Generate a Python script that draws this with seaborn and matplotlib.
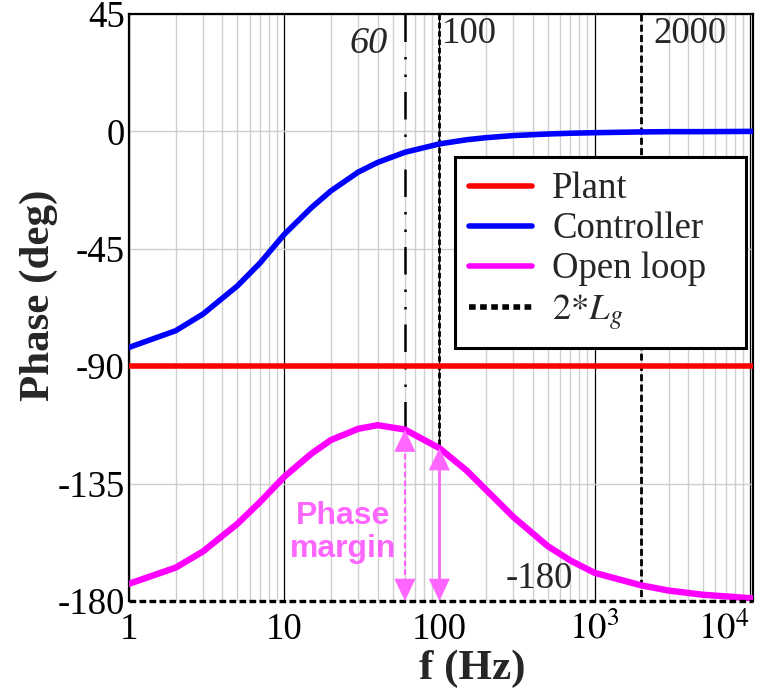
import numpy as np
import pandas as pd
import matplotlib
matplotlib.use("Agg")
import matplotlib.pyplot as plt
from matplotlib.lines import Line2D
from matplotlib.ticker import FixedLocator, NullFormatter
import seaborn as sns

# ---------------- data ----------------
freq = [1, 2, 3, 5, 7, 10, 15, 20, 30, 40, 60, 100, 150, 200, 300, 500,
        700, 1000, 2000, 3000, 5000, 10000, 10500]
plant = [-90] * len(freq)
controller = [-82.8, -76.4, -70.0, -59.2, -50.4, -39.5, -29.2, -22.8, -15.6,
              -11.9, -8.0, -4.8, -3.2, -2.4, -1.6, -1.0, -0.7, -0.5, -0.2,
              -0.1, -0.1, 0.0, 0.0]
open_loop = [-173.4, -167.2, -161.0, -150.4, -142.0, -132.4, -123.5, -118.3,
             -114.0, -112.6, -114.3, -121.4, -130.0, -137.4, -147.8, -159.0,
             -164.5, -169.2, -174.0, -176.0, -177.6, -178.9, -179.0]

series_names = ["Plant", "Controller", "Open loop"]
series_colors = ["#ff0000", "#0000ff", "#ff00ff"]
lg_label = r"$\mathit{2{*}L_g}$"

f_pm1, f_pm2, f_lg = 60, 100, 2000
yticks = [45, 0, -45, -90, -135, -180]
xticks = [1, 10, 100, 1000, 10000]
xticklabels = ["1", "10", "100", r"$10^3$", r"$10^4$"]

df = pd.DataFrame({
    "f": freq * 3,
    "phase": plant + controller + open_loop,
    "series": sum([[n] * len(freq) for n in series_names], []),
})

# ---------------- style ----------------
sns.set_theme(style="white")
plt.rcParams["font.family"] = ["Liberation Serif", "DejaVu Serif"]
plt.rcParams["mathtext.fontset"] = "stix"
FS = 26.5

fig = plt.figure(figsize=(7.59, 6.95), dpi=100)
ax = fig.add_axes([129 / 759, 1 - 601 / 695, 624 / 759, 587 / 695])

sns.lineplot(data=df, x="f", y="phase", hue="series", hue_order=series_names,
             palette=dict(zip(series_names, series_colors)), ax=ax,
             linewidth=4.0, legend=False, zorder=5)
for ln in ax.lines[2:3]:
    ln.set_linewidth(4.6)

ax.set_xscale("log")
ax.set_xlim(1, 10500)
ax.set_ylim(-180, 45)
ax.set_yticks(yticks)
ax.set_yticklabels([str(t) for t in yticks])
ax.set_xticks(xticks)
ax.set_xticklabels(xticklabels)
ax.xaxis.set_minor_locator(FixedLocator(
    [m * 10 ** d for d in range(0, 4) for m in range(2, 10)]))
ax.xaxis.set_minor_formatter(NullFormatter())
for lab in ax.get_xticklabels():
    if lab.get_text() == r"$10^4$":
        lab.set_ha("right")

ax.tick_params(axis="both", which="both", length=0, labelsize=FS,
               colors="black")
ax.tick_params(axis="y", pad=3)
ax.tick_params(axis="x", pad=8)

# grid
ax.xaxis.grid(True, which="minor", color="#cfcfcf", lw=1.0)
ax.xaxis.grid(True, which="major", color="black", lw=0.9)
ax.yaxis.grid(True, which="major", color="#cfcfcf", lw=1.0)
ax.set_axisbelow(True)

for s in ["left", "top", "right"]:
    ax.spines[s].set_color("black")
    ax.spines[s].set_linewidth(1.6)
ax.spines["bottom"].set_visible(False)
ax.axhline(-180, color="black", lw=2.4, ls=(0, (2.0, 1.0)), zorder=6,
           clip_on=False)

ol = dict(zip(freq, open_loop))

# vertical markers
ax.plot([f_pm1, f_pm1], [45, ol[f_pm1]], color="black", lw=1.8,
        ls=(0, (11, 6, 1, 6, 1, 6)), zorder=4)
ax.plot([f_pm2, f_pm2], [45, ol[f_pm2]], color="black", lw=2.0,
        ls=(0, (2.0, 1.0)), zorder=4)
ax.plot([f_lg, f_lg], [45, -180], color="black", lw=2.0,
        ls=(0, (2.5, 1.2)), zorder=4)

# phase margin arrows
pm_color = "#ff66ff"
ax.plot([f_pm1, f_pm1], [ol[f_pm1] - 6, -174], color=pm_color, lw=1.6,
        ls=(0, (2.5, 1.5)), zorder=6)
ax.plot([f_pm2, f_pm2], [ol[f_pm2] - 6, -174], color=pm_color, lw=2.0,
        zorder=6)
for fq, yv in [(f_pm1, ol[f_pm1]), (f_pm2, ol[f_pm2])]:
    for tip, tail in [(yv, yv - 10), (-180, -170)]:
        ax.annotate("", xy=(fq, tip), xytext=(fq, tail),
                    arrowprops=dict(
                        arrowstyle="-|>,head_length=0.8,head_width=0.38",
                        color=pm_color, lw=0.01, mutation_scale=20,
                        shrinkA=0, shrinkB=0), zorder=7)

ax.text(24.1, -153.8, "Phase\nmargin", color=pm_color, fontsize=23,
        fontweight="bold", family=["Liberation Sans", "DejaVu Sans"],
        ha="center", va="center", linespacing=1.1, zorder=7)

# annotations
ax.text(35, 33.5, "60", fontsize=FS + 1, style="italic", ha="center",
        va="center")
ax.text(104, 37.5, "100", fontsize=FS, ha="left", va="center")
ax.text(2400, 37.5, "2000", fontsize=FS, ha="left", va="center")
ax.text(440, -171.5, "-180", fontsize=FS, ha="center", va="center", zorder=8)

# labels
ax.set_xlabel("f (Hz)", fontsize=31, fontweight="bold")
ax.set_ylabel("Phase (deg)", fontsize=31, fontweight="bold")
ax.xaxis.set_label_coords(0.55, -0.083)
ax.yaxis.set_label_coords(-0.113, 0.52)

# legend
handles = [Line2D([], [], color=c, lw=4) for c in series_colors]
handles.append(Line2D([], [], color="black", lw=4, ls=(0, (1.2, 0.8))))
leg = ax.legend(handles, series_names + [lg_label], loc="upper left",
                bbox_to_anchor=(0.522, 0.431, 0.467, 0.325), mode="expand",
                fontsize=FS, handlelength=1.7, handletextpad=0.55,
                labelspacing=0.15, borderpad=0.4, borderaxespad=0,
                fancybox=False, framealpha=1, edgecolor="black")
leg.get_frame().set_linewidth(2.2)
leg.set_zorder(10)

fig.savefig("out.png", dpi=100)
